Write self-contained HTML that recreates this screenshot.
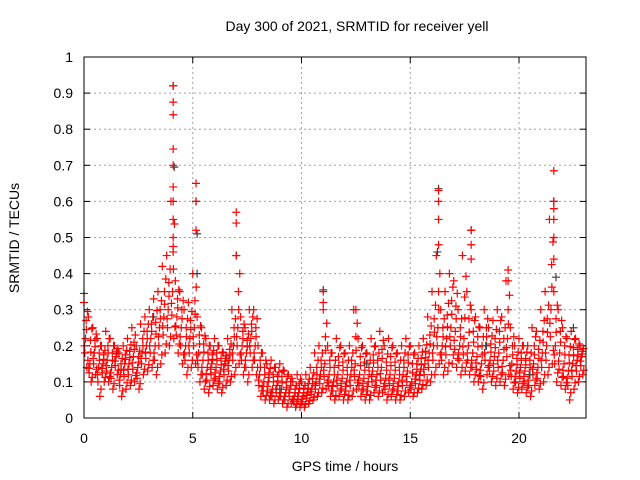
<!DOCTYPE html>
<html><head><meta charset="utf-8"><style>
body{margin:0;background:#fff;}
svg{display:block;font-family:"Liberation Sans",sans-serif;}
</style></head><body>
<svg id="chart" width="640" height="480">
<rect width="640" height="480" fill="#fff"/>
<text x="357" y="31" font-size="14" text-anchor="middle">Day 300 of 2021, SRMTID for receiver yell</text>
<text x="345" y="471" font-size="14" text-anchor="middle">GPS time / hours</text>
<text transform="translate(19,238) rotate(-90)" font-size="14" text-anchor="middle">SRMTID / TECUs</text>
<g id="grid"></g><g id="ticks"></g><g id="marks"></g>
<rect x="84" y="57" width="502" height="361" fill="none" stroke="#000" stroke-width="1"/>
</svg>
<script>
const hours=[0,0.2,0.4,0.6,0.8,1,1.2,1.4,1.6,1.8,2,2.2,2.4,2.6,2.8,3,3.2,3.4,3.6,3.8,4,4.2,4.4,4.6,4.8,5,5.2,5.4,5.6,5.8,6,6.2,6.4,6.6,6.8,7,7.2,7.4,7.6,7.8,8,8.2,8.4,8.6,8.8,9,9.2,9.4,9.6,9.8,10,10.2,10.4,10.6,10.8,11,11.2,11.4,11.6,11.8,12,12.2,12.4,12.6,12.8,13,13.2,13.4,13.6,13.8,14,14.2,14.4,14.6,14.8,15,15.2,15.4,15.6,15.8,16,16.2,16.4,16.6,16.8,17,17.2,17.4,17.6,17.8,18,18.2,18.4,18.6,18.8,19,19.2,19.4,19.6,19.8,20,20.2,20.4,20.6,20.8,21,21.2,21.4,21.6,21.8,22,22.2,22.4,22.6,22.8];
const upperVals=[.32,.28,.25,.22,.2,.24,.22,.2,.18,.2,.22,.25,.2,.26,.28,.3,.33,.35,.42,.45,.6,.38,.35,.3,.32,.4,.28,.25,.22,.2,.22,.2,.18,.22,.3,.45,.28,.25,.3,.3,.2,.18,.15,.16,.14,.15,.13,.12,.1,.12,.1,.12,.14,.18,.2,.3,.2,.18,.22,.2,.18,.2,.3,.22,.2,.18,.22,.2,.24,.2,.22,.2,.18,.2,.22,.2,.18,.2,.22,.28,.35,.45,.3,.35,.4,.38,.3,.45,.35,.3,.28,.25,.3,.25,.27,.3,.28,.38,.25,.2,.22,.2,.2,.25,.24,.3,.35,.55,.35,.3,.25,.22,.24,.22,.2];
const midVals=[.22,.15,.18,.14,.15,.16,.14,.17,.12,.15,.15,.17,.14,.18,.2,.22,.2,.25,.28,.3,.35,.28,.25,.2,.22,.25,.18,.16,.14,.15,.14,.13,.15,.16,.2,.25,.2,.18,.22,.2,.12,.1,.1,.08,.09,.08,.07,.08,.06,.07,.06,.07,.08,.1,.12,.15,.12,.1,.12,.11,.1,.12,.15,.12,.11,.1,.13,.12,.14,.11,.12,.11,.1,.12,.13,.1,.12,.13,.15,.18,.2,.25,.2,.22,.25,.24,.2,.22,.2,.18,.17,.15,.2,.16,.17,.18,.16,.22,.15,.13,.14,.13,.12,.15,.14,.18,.2,.3,.2,.18,.15,.13,.15,.16,.17];
const lowVals=[.14,.1,.12,.06,.1,.1,.08,.12,.06,.08,.09,.1,.08,.12,.13,.14,.12,.15,.18,.2,.22,.18,.15,.12,.14,.15,.1,.08,.07,.09,.08,.07,.09,.1,.12,.15,.12,.1,.14,.12,.06,.05,.05,.04,.05,.04,.03,.04,.03,.03,.03,.04,.05,.06,.07,.08,.06,.05,.06,.05,.05,.06,.08,.06,.05,.05,.07,.06,.07,.05,.06,.05,.05,.06,.07,.06,.07,.08,.09,.1,.12,.15,.12,.13,.15,.14,.12,.13,.12,.1,.1,.08,.12,.1,.09,.1,.09,.12,.08,.07,.08,.07,.06,.09,.08,.1,.12,.15,.1,.09,.08,.05,.08,.1,.12];
const spikeHours=[4.1,4.1,4.1,4.1,4.1,4.1,4.1,4.1,4.1,4.1,5.15,5.15,5.15,7,7,7,16.3,16.3,16.3,16.3,17.8,17.8,17.8,19.5,19.5,21.6,21.6,21.6,21.6,21.6,21.6,11,11,12.5];
const spikeVals=[.92,.875,.84,.745,.7,.64,.6,.55,.5,.46,.65,.6,.52,.57,.54,.45,.63,.6,.55,.48,.52,.48,.44,.41,.38,.685,.6,.58,.55,.5,.44,.35,.32,.3];
const blackHours=[4.1,4.15,5.15,5.2,5.2,16.3,16.25,17.8,21.6,21.7,11,0,3.2,9,13,18.5,20.5,22.5];
const blackVals=[.92,.695,.6,.51,.4,.635,.46,.52,.6,.39,.355,.345,.28,.08,.15,.2,.12,.25];
const xTicks=[0,5,10,15,20];
const yTicks=[0,0.1,0.2,0.3,0.4,0.5,0.6,0.7,0.8,0.9,1];

const NS="http://www.w3.org/2000/svg";
const X0=84,X1=586,Y0=418,Y1=57,XMAX=23.08;
const xs=h=>X0+h/XMAX*(X1-X0);
const ys=v=>Y0-v*(Y0-Y1);
const grid=document.getElementById('grid'),ticks=document.getElementById('ticks'),marks=document.getElementById('marks');
function mk(tag,attrs,parent){const e=document.createElementNS(NS,tag);for(const k in attrs)e.setAttribute(k,attrs[k]);parent.appendChild(e);return e;}
xTicks.forEach(t=>{
  const x=xs(t);
  if(t>0){const g=mk('line',{x1:x,x2:x,y1:Y1,y2:Y0,stroke:'#a0a0a0','stroke-dasharray':'2,3'},grid);
  
  }
  mk('line',{x1:x,x2:x,y1:Y0,y2:Y0-6,stroke:'#000'},ticks);
  mk('line',{x1:x,x2:x,y1:Y1,y2:Y1+6,stroke:'#000'},ticks);
  const l=mk('text',{x:x,y:443,'font-size':14,'text-anchor':'middle'},ticks);l.textContent=t;
  
  
});
yTicks.forEach(t=>{
  const y=ys(t);
  if(t>0&&t<1){const g=mk('line',{x1:X0,x2:X1,y1:y,y2:y,stroke:'#a0a0a0','stroke-dasharray':'2,3'},grid);
  
  }
  mk('line',{x1:X0,x2:X0+6,y1:y,y2:y,stroke:'#000'},ticks);
  mk('line',{x1:X1,x2:X1-6,y1:y,y2:y,stroke:'#000'},ticks);
  const l=mk('text',{x:73,y:y+5,'font-size':14,'text-anchor':'end'},ticks);l.textContent=String(t);
  
  
});
function plus(h,v,color,name){
  const x=xs(h),y=ys(v);
  const p=mk('path',{d:`M${x-4},${y}H${x+4}M${x},${y-4}V${y+4}`,stroke:color,'stroke-width':1.2,fill:'none'},marks);
  
  
}
hours.forEach((h,i)=>{
  const u=upperVals[i],m=midVals[i],l=lowVals[i];
  plus(h,u,'#ff0000','srmtid-point');
  plus(Math.min(h+0.07,XMAX),m,'#ff0000','srmtid-point');
  plus(Math.min(h+0.13,XMAX),l,'#ff0000','srmtid-point');
  plus(Math.min(h+0.1,XMAX),(u+m)/2,'#ff0000','srmtid-point');
  plus(Math.min(h+0.04,XMAX),(m+l)/2,'#ff0000','srmtid-point');
  plus(Math.min(h+0.16,XMAX),(u*3+m)/4,'#ff0000','srmtid-point');
  plus(Math.min(h+0.02,XMAX),(m*3+l)/4,'#ff0000','srmtid-point');
  plus(Math.min(h+0.18,XMAX),(m+l*3)/4,'#ff0000','srmtid-point');
  plus(Math.min(h+0.11,XMAX),(u+m*3)/4,'#ff0000','srmtid-point');
});
blackHours.forEach((h,i)=>plus(h,blackVals[i],'#404040','srmtid-point-black'));
spikeHours.forEach((h,i)=>plus(h,spikeVals[i],'#ff0000','srmtid-spike-point'));
</script>
</body></html>
